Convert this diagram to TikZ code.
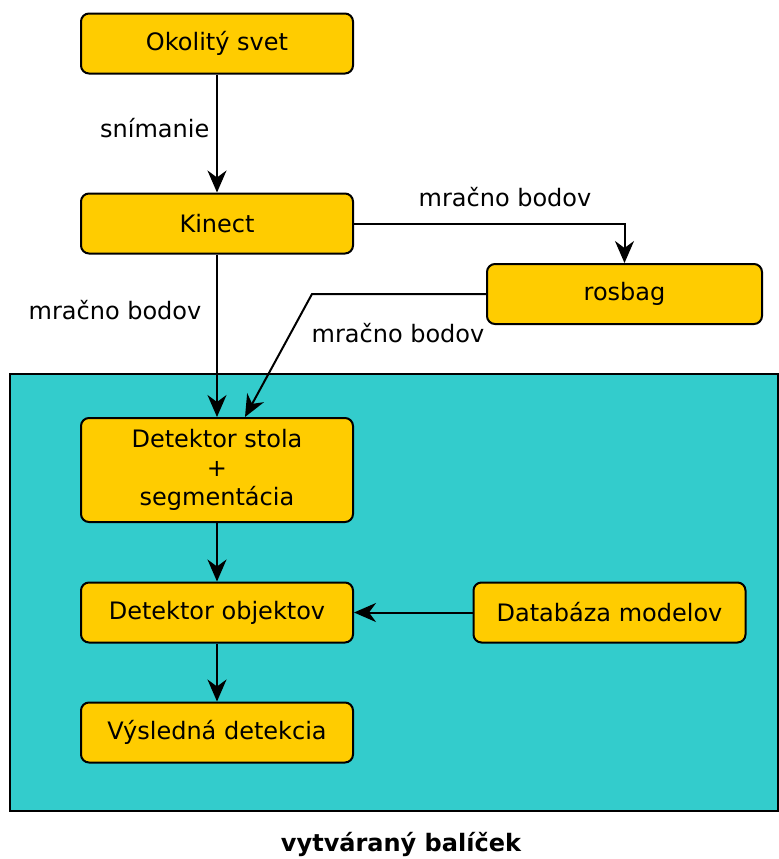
\documentclass[tikz,border=0pt]{standalone}
\usepackage{fontspec}
\setmainfont{DejaVu Sans}
\usepackage{tikz}
\usetikzlibrary{arrows.meta,positioning}
\definecolor{boxyellow}{RGB}{255,204,0}
\definecolor{pkgcyan}{RGB}{51,204,204}

\tikzset{
  stepbox/.style={draw,line width=1pt,fill=boxyellow,rounded corners=4pt,
    minimum width=136pt,minimum height=30pt,align=center,
    font=\fontsize{12}{14.5}\selectfont},
  flow/.style={line width=1pt,-{Stealth[length=11pt,width=9.5pt,inset=3.5pt]}},
  lbl/.style={font=\fontsize{12}{14.5}\selectfont}
}

\begin{document}
\begin{tikzpicture}[x=0.5pt,y=-0.5pt]
  \useasboundingbox (0,0) rectangle (779,859);
  % --- package area (cyan) ---------------------------------------------
  \draw[line width=1pt,fill=pkgcyan] (10,374) rectangle (778,811);
  \node[font=\fontsize{12}{14.5}\selectfont\bfseries] (pkgname) at (401,844) {vytváraný balíček};

  % --- boxes ------------------------------------------------------------
  \node[stepbox] (svet) at (217,43.5) {Okolitý svet};
  \node[stepbox] (kinect) at (217,223.5) {Kinect};
  \node[stepbox,minimum width=137.5pt] (rosbag) at (624.5,294) {rosbag};
  \node[stepbox,minimum height=52pt] (stol) at (217,470) {Detektor stola\\+\\segmentácia};
  \node[stepbox] (objekty) at (217,612.5) {Detektor objektov};
  \node[stepbox] (databaza) at (609.5,612.5) {Databáza modelov};
  \node[stepbox] (vysledok) at (217,732.5) {Výsledná detekcia};

  % --- connectors -------------------------------------------------------
  \draw[flow] (svet) -- (kinect) node[lbl,pos=0.45,left=0pt] {snímanie};
  \draw[flow] (kinect.east) -| (rosbag.north);
  \node[lbl] (lblrec) at (505,197) {mračno bodov};
  \draw[flow] (kinect) -- (stol);
  \node[lbl] (lblkin) at (115,310) {mračno bodov};
  \coordinate (bend) at (312,294);
  \draw[flow] (rosbag.west) -- (bend) -- ([xshift=14pt]stol.north);
  \node[lbl] (lblbag) at (398,333) {mračno bodov};
  \draw[flow] (stol) -- (objekty);
  \draw[flow] (databaza) -- (objekty);
  \draw[flow] (objekty) -- (vysledok);
\end{tikzpicture}
\end{document}
